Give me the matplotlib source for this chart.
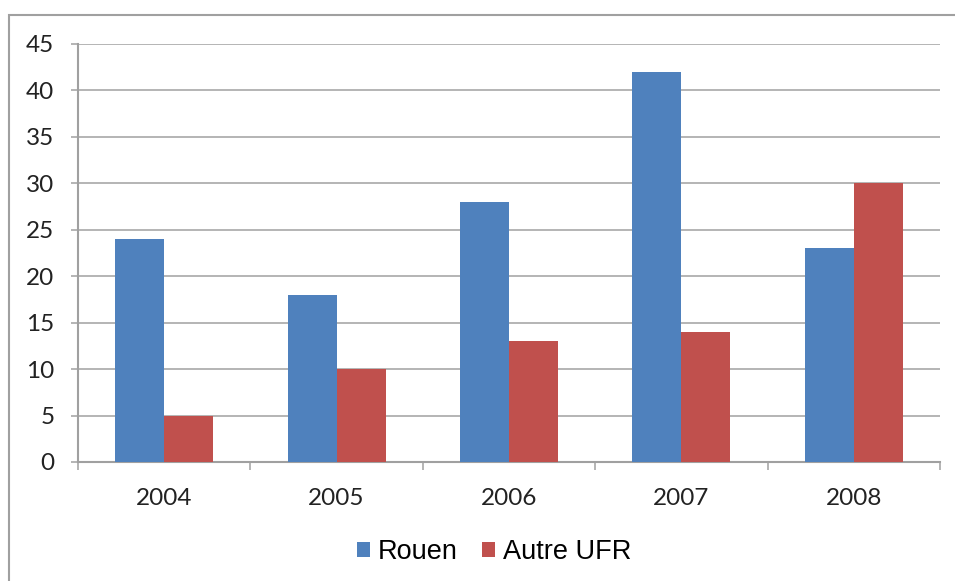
import matplotlib.pyplot as plt
import numpy as np
from matplotlib.patches import Rectangle

plt.rcParams['font.family'] = ['Lato', 'DejaVu Sans']

years = ['2004', '2005', '2006', '2007', '2008']
rouen = [24, 18, 28, 42, 23]
autre_ufr = [5, 10, 13, 14, 30]

color_rouen = '#4F81BD'
color_autre = '#C0504D'
grey = '#A0A0A0'

fig = plt.figure(figsize=(9.55, 5.81), dpi=100)
ax = fig.add_axes([78/955, 1 - 462/581, 862/955, 418/581])

# cadre gris autour du graphique (seulement haut et gauche visibles)
fig.patches.append(Rectangle((9/955, -0.1), 1.2, 1.1 - 15/581,
                             transform=fig.transFigure, fill=False,
                             edgecolor=grey, linewidth=1.5, zorder=0))

x_pos = np.arange(len(years))
bar_width = 0.284

ax.bar(x_pos - bar_width/2, rouen, bar_width, color=color_rouen, label='Rouen', zorder=3)
ax.bar(x_pos + bar_width/2, autre_ufr, bar_width, color=color_autre, label='Autre UFR', zorder=3)

ax.set_xlim(-0.5, len(years) - 0.5)
ax.set_ylim(0, 45)
ax.set_yticks(np.arange(0, 50, 5))
ax.set_xticks(x_pos)
ax.set_xticklabels(years)
ax.set_xticks(np.arange(-0.5, len(years), 1), minor=True)

ax.grid(True, axis='y', color=grey, linewidth=1.1, zorder=0)
for s in ['top', 'right']:
    ax.spines[s].set_visible(False)
for s in ['left', 'bottom']:
    ax.spines[s].set_color(grey)
    ax.spines[s].set_linewidth(1.5)

ax.tick_params(axis='y', length=5, width=1.1, color=grey, pad=12, labelsize=17.5, labelcolor='#222222')
ax.tick_params(axis='x', which='major', length=0, pad=19, labelsize=17.5, labelcolor='#222222')
ax.tick_params(axis='x', which='minor', length=6, width=1.1, color=grey)

fig.legend(loc='center', bbox_to_anchor=(494/955, 1 - 552/581), ncol=2, frameon=False,
           prop={'family': 'Liberation Sans', 'size': 19.5},
           handlelength=0.5, handleheight=0.5, handletextpad=0.28, columnspacing=0.9)

plt.savefig('out.png', dpi=100)
